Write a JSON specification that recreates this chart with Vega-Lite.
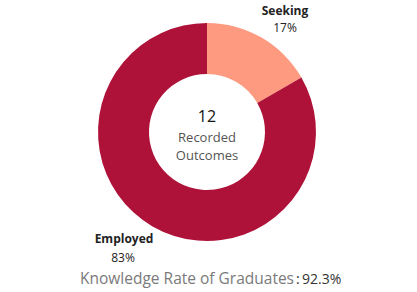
{
  "$schema": "https://vega.github.io/schema/vega-lite/v6.json",
  "width": 218,
  "height": 218,
  "autosize": {"type": "none"},
  "padding": {"left": 98, "top": 23, "right": 101, "bottom": 51},
  "background": "white",
  "config": {"view": {"stroke": null}, "font": "Open Sans"},
  "data": {"values": [
    {"category": "Seeking", "count": 2, "share": 0.1667},
    {"category": "Employed", "count": 10, "share": 0.8333}
  ]},
  "layer": [
    {
      "mark": {"type": "arc", "innerRadius": 58, "stroke": null},
      "encoding": {
        "theta": {"field": "share", "type": "quantitative", "stack": true},
        "order": {"field": "share", "sort": "ascending"},
        "color": {"field": "category", "type": "nominal", "legend": null,
          "scale": {"domain": ["Seeking", "Employed"], "range": ["#FD9A80", "#AF1239"]}}
      }
    },
    {
      "mark": {"type": "text", "fontSize": 12, "fontWeight": "bold", "align": "center", "baseline": "alphabetic", "dx": 18, "dy": -13, "color": "#222"},
      "encoding": {
        "theta": {"field": "share", "type": "quantitative", "stack": true},
        "order": {"field": "share", "sort": "ascending"},
        "radius": {"value": 120},
        "text": {"condition": {"test": "datum.category === 'Seeking'", "field": "category"}, "value": ""}
      }
    },
    {
      "mark": {"type": "text", "fontSize": 12, "align": "center", "baseline": "alphabetic", "dx": 18, "dy": 4, "color": "#222"},
      "encoding": {
        "theta": {"field": "share", "type": "quantitative", "stack": true},
        "order": {"field": "share", "sort": "ascending"},
        "radius": {"value": 120},
        "text": {"condition": {"test": "datum.category === 'Seeking'", "field": "share", "format": ".0%"}, "value": ""}
      }
    },
    {
      "mark": {"type": "text", "fontSize": 12, "fontWeight": "bold", "align": "center", "baseline": "alphabetic", "dx": -23, "dy": 7, "color": "#222"},
      "encoding": {
        "theta": {"field": "share", "type": "quantitative", "stack": true},
        "order": {"field": "share", "sort": "ascending"},
        "radius": {"value": 120},
        "text": {"condition": {"test": "datum.category === 'Employed'", "field": "category"}, "value": ""}
      }
    },
    {
      "mark": {"type": "text", "fontSize": 12, "align": "center", "baseline": "alphabetic", "dx": -24, "dy": 26, "color": "#222"},
      "encoding": {
        "theta": {"field": "share", "type": "quantitative", "stack": true},
        "order": {"field": "share", "sort": "ascending"},
        "radius": {"value": 120},
        "text": {"condition": {"test": "datum.category === 'Employed'", "field": "share", "format": ".0%"}, "value": ""}
      }
    },
    {
      "transform": [{"aggregate": [{"op": "sum", "field": "count", "as": "total"}]}],
      "layer": [
        {
          "mark": {"type": "text", "fontSize": 16, "align": "center", "baseline": "alphabetic", "dy": -10, "color": "#111"},
          "encoding": {"text": {"field": "total", "type": "quantitative"}}
        },
        {
          "mark": {"type": "text", "fontSize": 13, "align": "center", "baseline": "alphabetic", "dy": 10, "lineHeight": 18, "color": "#555", "text": ["Recorded", "Outcomes"]},
          "encoding": {}
        }
      ]
    },
    {
      "data": {"values": [{"metric": "Knowledge Rate of Graduates", "rate": 0.923}]},
      "layer": [
        {
          "mark": {"type": "text", "fontSize": 15.5, "align": "right", "baseline": "alphabetic", "dx": 87, "dy": 152, "color": "#7a7a7a"},
          "encoding": {"text": {"field": "metric"}}
        },
        {
          "mark": {"type": "text", "fontSize": 14, "align": "left", "baseline": "alphabetic", "dx": 89, "dy": 152, "color": "#333", "text": ":"},
          "encoding": {}
        },
        {
          "mark": {"type": "text", "fontSize": 14, "align": "left", "baseline": "alphabetic", "dx": 95, "dy": 152, "color": "#333"},
          "encoding": {"text": {"field": "rate", "format": ".1%"}}
        }
      ]
    }
  ]
}
